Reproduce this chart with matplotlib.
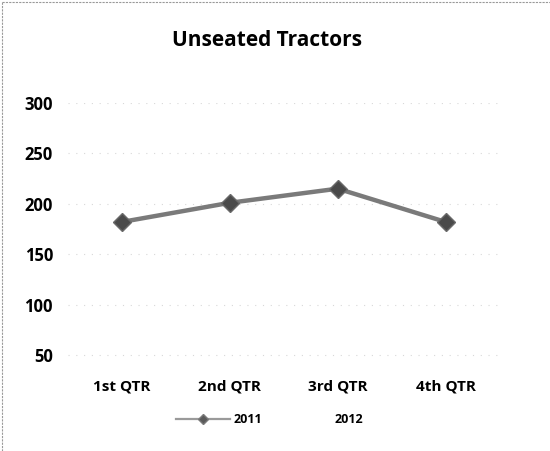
import matplotlib
matplotlib.use("Agg")
import matplotlib.pyplot as plt
from matplotlib.lines import Line2D

categories = ["1st QTR", "2nd QTR", "3rd QTR", "4th QTR"]
series_names = ["2011", "2012"]
values_2011 = [182, 201, 215, 182]
values_2012 = [None, None, None, None]
yticks = [50, 100, 150, 200, 250, 300]

plt.rcParams['font.family'] = ['Open Sans', 'DejaVu Sans']

fig = plt.figure(figsize=(5.5, 4.51), dpi=100)
ax = fig.add_axes([0.124, 0.1685, 0.784, 0.603])

x = list(range(len(categories)))
ax.plot(x, values_2011, color="#7a7a7a", lw=3.2, marker="D", markersize=9,
        markerfacecolor="#4a4a4a", markeredgecolor="#6a6a6a", label=series_names[0])

ax.set_xlim(-0.5, len(categories) - 0.5)
ax.set_ylim(30, 300)
ax.set_yticks(yticks)
ax.set_yticklabels([str(v) for v in yticks], fontsize=12, fontweight="bold")
ax.set_xticks(x)
ax.set_xticklabels(categories, fontsize=11, fontweight="bold")
ax.tick_params(axis="both", length=0)
ax.tick_params(axis="y", pad=11)
ax.tick_params(axis="x", pad=3)
for s in ax.spines.values():
    s.set_visible(False)
ax.grid(axis="y", color="#d8d8d8", lw=0.8, ls=(0, (1, 6)))
ax.set_axisbelow(True)

fig.text(0.485, 0.91, "Unseated Tractors", ha="center", va="center",
         fontsize=15, fontweight="bold")

h2011 = Line2D([], [], color="#9a9a9a", lw=1.6, marker="D", markersize=5,
               markerfacecolor="#5a5a5a", markeredgecolor="#7a7a7a")
h2012 = Line2D([], [], color="white", lw=0)
leg = fig.legend([h2011, h2012], series_names, loc="center",
                 bbox_to_anchor=(0.49, 0.069), ncol=2,
                 frameon=False, prop={"weight": "bold", "size": 9},
                 handlelength=4.3, handletextpad=0.3, columnspacing=1.2)

# faint border like the scanned frame
fig.add_artist(Line2D([0.004, 0.004], [0.0, 0.995], color="#999999", lw=0.8,
                      ls=(0, (2, 1)), transform=fig.transFigure))
fig.add_artist(Line2D([0.004, 1.0], [0.995, 0.995], color="#999999", lw=0.8,
                      ls=(0, (2, 1)), transform=fig.transFigure))

fig.savefig("out.png", dpi=100)
